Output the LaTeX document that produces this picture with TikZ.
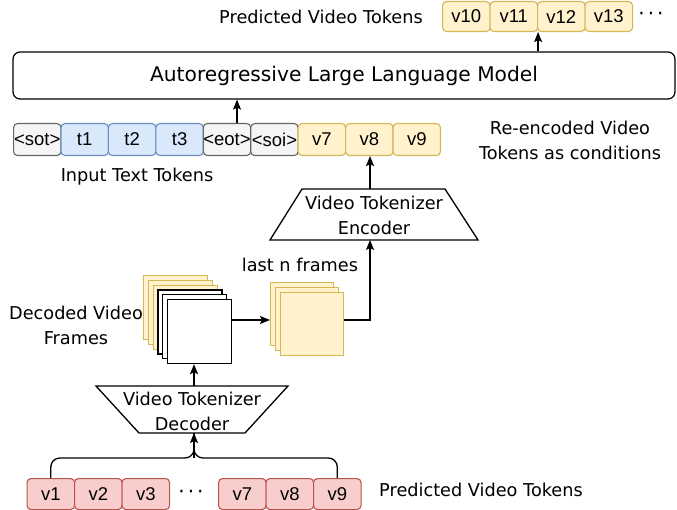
\documentclass[tikz,border=0pt]{standalone}
\usepackage{fontspec}
\setmainfont{DejaVu Sans}
\newfontfamily\tokfont{Liberation Sans}
\usetikzlibrary{arrows.meta}
\definecolor{grayF}{HTML}{F5F5F5}
\definecolor{grayS}{HTML}{666666}
\definecolor{blueF}{HTML}{DAE8FC}
\definecolor{blueS}{HTML}{6C8EBF}
\definecolor{yelF}{HTML}{FFF2CC}
\definecolor{yelS}{HTML}{D6B656}
\definecolor{redF}{HTML}{F8CECC}
\definecolor{redS}{HTML}{B85450}
\begin{document}
\begin{tikzpicture}[x=1pt,y=-1pt,
  tok/.style={draw, rounded corners=4pt, line width=1.1pt, minimum width=47.4pt,
    minimum height=32pt, inner sep=0pt, anchor=north west,
    font=\tokfont\fontsize{18.5}{20}\selectfont},
  graytok/.style={tok, fill=grayF, draw=grayS},
  bluetok/.style={tok, fill=blueF, draw=blueS},
  yeltok/.style={tok, fill=yelF, draw=yelS},
  redtok/.style={tok, fill=redF, draw=redS},
  lbl/.style={inner sep=0pt, align=center, font=\fontsize{17.7}{25}\selectfont},
  arr/.style={-{Stealth[length=10pt,width=8pt,inset=2pt]}, line width=1.3pt},
  conn/.style={line width=1.3pt},
  trap/.style={draw, line width=1.3pt, fill=white},
  yframe/.style={draw=yelS, fill=yelF, line width=1.2pt, minimum size=64pt, inner sep=0pt, anchor=north west},
  wframe/.style={draw=black, fill=white, line width=1.2pt, minimum size=64pt, inner sep=0pt, anchor=north west},
  lframe/.style={draw=yelS, fill=yelF, line width=1.2pt, minimum size=63pt, inner sep=0pt, anchor=north west},
  dots/.style={inner sep=0pt, font=\fontsize{20}{20}\selectfont}
]
\useasboundingbox (0,0) rectangle (677,510);

% top predicted tokens
\node[lbl] (predtop) at (321,17) {Predicted Video Tokens};
\node[yeltok, minimum width=47.5pt, minimum height=30pt] (v10) at (442,1) {v10};
\node[yeltok, minimum width=47.5pt, minimum height=30pt] (v11) at (489.5,1) {v11};
\node[yeltok, minimum width=47.5pt, minimum height=30pt] (v12) at (537,1) {v12};
\node[yeltok, minimum width=47.5pt, minimum height=30pt] (v13) at (584.5,1) {v13};
\node[dots] (dtop) at (651,16) {·\kern3pt·\kern3pt·};

% LLM
\node[draw, rounded corners=7pt, line width=1.2pt, minimum width=662pt, minimum height=47pt,
  font=\fontsize{20.2}{24}\selectfont] (llm) at (344,75.5) {Autoregressive Large Language Model};

% input row
\node[graytok] (sot) at (13,123) {<sot>};
\node[bluetok] (t1) at (60.44,123) {t1};
\node[bluetok] (t2) at (107.88,123) {t2};
\node[bluetok] (t3) at (155.32,123) {t3};
\node[graytok] (eot) at (202.76,123) {<eot>};
\node[graytok] (soi) at (250.2,123) {<soi>};
\node[yeltok] (c7) at (297.64,123) {v7};
\node[yeltok] (c8) at (345.08,123) {v8};
\node[yeltok] (c9) at (392.52,123) {v9};

\node[lbl] (itt) at (137,177) {Input Text Tokens};
\node[lbl] (reenc) at (570,140.5) {Re-encoded Video\\Tokens as conditions};

% encoder
\draw[trap] (302,189) -- (445,189) -- (478,240) -- (270,240) -- cycle;
\node[lbl] (enc) at (374,215.5) {Video Tokenizer\\Encoder};
\coordinate (enctop) at (370,189);
\coordinate (encbot) at (370,240);

% last n frames
\node[lbl] (lastn) at (300,265) {last n frames};
\node[lframe] (lf1) at (270,282) {};
\node[lframe] (lf2) at (275,287) {};
\node[lframe] (lf3) at (280,292) {};

% decoded frames
\node[yframe] (df1) at (143,275) {};
\node[yframe] (df2) at (147.8,279.8) {};
\node[yframe] (df3) at (152.6,284.6) {};
\node[wframe] (df4) at (157.4,289.4) {};
\node[wframe] (df5) at (162.2,294.2) {};
\node[wframe] (df6) at (167,299) {};
\node[lbl] (dvf) at (76,325) {Decoded Video\\Frames};

% decoder
\draw[trap] (96,386) -- (288,386) -- (245,433) -- (139,433) -- cycle;
\node[lbl] (dec) at (192,411.5) {Video Tokenizer\\Decoder};
\coordinate (dectop) at (194,386);
\coordinate (decbot) at (194,433);

% bottom tokens
\node[redtok, minimum width=47.5pt, minimum height=31pt] (b1) at (26.5,478) {v1};
\node[redtok, minimum width=47.5pt, minimum height=31pt] (b2) at (74,478) {v2};
\node[redtok, minimum width=47.5pt, minimum height=31pt] (b3) at (121.5,478) {v3};
\node[dots] (dbot) at (191,494) {·\kern3pt·\kern3pt·};
\node[redtok, minimum width=47.5pt, minimum height=31pt] (b7) at (218,478) {v7};
\node[redtok, minimum width=47.5pt, minimum height=31pt] (b8) at (265.5,478) {v8};
\node[redtok, minimum width=47.5pt, minimum height=31pt] (b9) at (313,478) {v9};
\node[lbl] (predbot) at (481,490) {Predicted Video Tokens};

% connectors
\coordinate (join) at (194,458);
\draw[conn, rounded corners=9pt] (b1.north) |- (join) -- (decbot);
\draw[conn, rounded corners=9pt] (b9.north) |- (join) -- (decbot);
\draw[arr] (join) -- (decbot);
\draw[arr] (dectop) -- (dectop |- df6.south);
\coordinate (dout) at (df6.east |- 0,320);
\coordinate (lin) at (lf1.west |- 0,320);
\coordinate (lout) at (lf3.east |- 0,320);
\draw[arr] (dout) -- (lin);
\draw[arr] (lout) -| (encbot);
\draw[arr] (enctop) -- (enctop |- c8.south);
\draw[arr] ([xshift=10pt]eot.north) -- ([xshift=10pt]eot.north |- llm.south);
\draw[arr] (llm.north -| v11.east) -- (v11.south east);
\end{tikzpicture}
\end{document}
